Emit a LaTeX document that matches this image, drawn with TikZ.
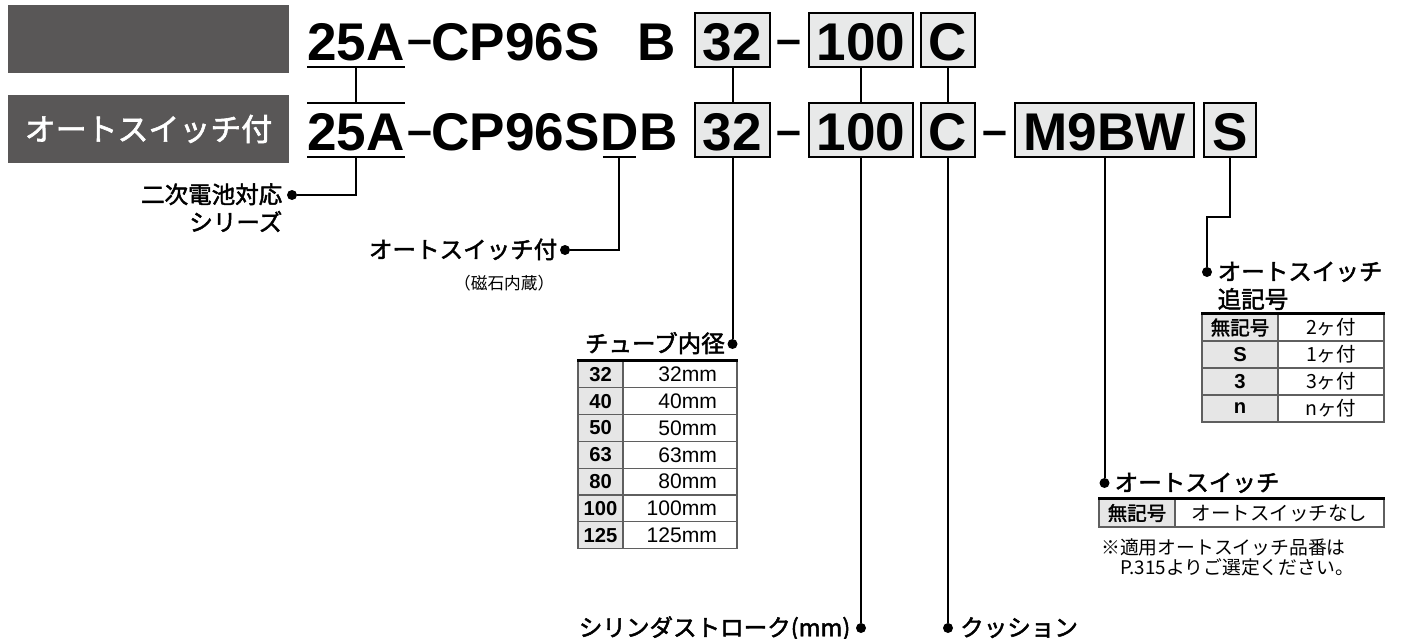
\documentclass[tikz,border=0pt]{standalone}
\usepackage{fontspec}
\setmainfont{Liberation Sans}
\newfontfamily\heros{Liberation Sans}
\newfontfamily\jp{Noto Sans CJK JP}
\newfontfamily\jpm[FakeBold=2]{Noto Sans CJK JP}
\usepackage{tikz}
\usetikzlibrary{positioning}

\definecolor{hdrgray}{RGB}{89,87,87}
\definecolor{boxgray}{RGB}{232,233,233}
\definecolor{cellgray}{RGB}{230,230,230}
\definecolor{gridgray}{RGB}{95,95,95}

\begin{document}
\begin{tikzpicture}[x=0.02cm, y=-0.02cm,
    hdr/.style={rectangle, fill=hdrgray, minimum width=5.62cm, minimum height=1.36cm,
                inner sep=0, text=white, font=\jpm\fontsize{17.6}{18}\selectfont},
    code/.style={font=\heros\bfseries\fontsize{30.2}{30}\selectfont, inner sep=0,
                 text height=0.94cm, text depth=0.14cm, anchor=base west},
    codebox/.style={code, anchor=base, draw=black, fill=boxgray, line width=0.04cm, inner xsep=0.16cm},
    hyph/.style={font=\heros\bfseries\fontsize{25.5}{26}\selectfont, inner sep=0, anchor=base},
    conn/.style={line width=0.04cm},
    uline/.style={line width=0.04cm},
    topline/.style={line width=0.05cm},
    dot/.style={circle, fill=black, inner sep=0, minimum size=0.2cm},
    lbl/.style={font=\jpm\fontsize{13.4}{14}\selectfont, inner sep=0,
                text height=0.4cm, text depth=0.07cm},
    note/.style={font=\jp\fontsize{10.7}{11.4}\selectfont, align=left, inner sep=0},
    keycell/.style={draw=gridgray, line width=0.025cm, fill=cellgray, inner sep=0,
                    font=\heros\bfseries\fontsize{11.5}{12}\selectfont},
    valcell/.style={draw=gridgray, line width=0.025cm, inner sep=0,
                    font=\heros\fontsize{12}{12}\selectfont},
    tubekey/.style={keycell, minimum width=0.9cm, minimum height=0.536cm},
    tubeval/.style={valcell, minimum height=0.536cm, text width=1.48cm, inner xsep=0.4cm, align=right},
    jpkey/.style={keycell, font=\jpm\fontsize{11.1}{12}\selectfont},
    jpval/.style={valcell, font=\jp\fontsize{11.1}{12}\selectfont}
]
    \useasboundingbox (0,0) rectangle (1401,639);

    % header boxes
    \node[hdr] (hdr1) at (148.5,39) {};
    \node[hdr] (hdr2) at (148.5,129) {オートスイッチ付};

    % standard model code
    \node[code] (ser1) at (307,60) {25A};
    \node[hyph] (h1a) at (420,54.5) {–};
    \node[code] (cp1) at (431,60) {CP96S\phantom{D}B};
    \node[codebox] (bore1) at (732.5,60) {32};
    \node[hyph] (h1b) at (789,54.5) {–};
    \node[codebox] (st1) at (861,60) {100};
    \node[codebox] (cu1) at (948,60) {C};

    % model code with auto switch
    \node[code] (ser2) at (307,150) {25A};
    \node[hyph] (h2a) at (420,145.5) {–};
    \node[code] (cp2) at (431,150) {CP96S};
    \node[code] (d2) at (cp2.base east) {D};
    \node[code] (b2) at (d2.base east) {B};
    \node[codebox] (bore2) at (732.5,150) {32};
    \node[hyph] (h2b) at (789,145.5) {–};
    \node[codebox] (st2) at (861,150) {100};
    \node[codebox] (cu2) at (948,150) {C};
    \node[hyph] (h2c) at (994.5,145.5) {–};
    \node[codebox] (sw2) at (1104.5,150) {M9BW};
    \node[codebox] (sf2) at (1230,150) {S};

    % underlines and links between the two rows
    \draw[uline] (ser1.south west) -- (ser1.south east);
    \draw[uline] (ser2.north west) -- (ser2.north east);
    \draw[uline] (ser2.south west) -- (ser2.south east);
    \draw[uline] ([xshift=0.06cm]d2.south west) -- ([xshift=-0.06cm]d2.south east);
    \draw[conn] (ser1.south) -- (ser2.north);
    \draw[conn] (bore1) -- (bore2);
    \draw[conn] (st1) -- (st2);
    \draw[conn] (cu1) -- (cu2);

    % series
    \node[dot] (dser) at (292,195) {};
    \node[lbl, left=0.08cm of dser] (lser) {二次電池対応};
    \node[lbl, anchor=north east] (lser2) at ([yshift=-0.07cm]lser.south east) {シリーズ};
    \draw[conn] (ser2.south) |- (dser);

    % auto switch mounted
    \node[dot] (dsw) at (565,250) {};
    \node[lbl, left=0.04cm of dsw] (lsw) {オートスイッチ付};
    \node[font=\jp\fontsize{9.5}{10}\selectfont, inner sep=0, anchor=north east] (lmag)
        at ([xshift=-0.06cm, yshift=-0.26cm]lsw.south east) {（磁石内蔵）};
    \draw[conn] (d2.south) |- (dsw);

    % bore size
    \node[dot] (dbore) at (732.5,344) {};
    \node[lbl, left=0.04cm of dbore] (lbore) {チューブ内径};
    \draw[conn] (bore2) -- (dbore);
    \node[tubekey] (tk1) at (600.5,374.4) {32};  \node[tubeval] (tv1) at (680,374.4) {32mm};
    \node[tubekey] (tk2) at (600.5,401.2) {40};  \node[tubeval] (tv2) at (680,401.2) {40mm};
    \node[tubekey] (tk3) at (600.5,428.0) {50};  \node[tubeval] (tv3) at (680,428.0) {50mm};
    \node[tubekey] (tk4) at (600.5,454.8) {63};  \node[tubeval] (tv4) at (680,454.8) {63mm};
    \node[tubekey] (tk5) at (600.5,481.6) {80};  \node[tubeval] (tv5) at (680,481.6) {80mm};
    \node[tubekey] (tk6) at (600.5,508.4) {100}; \node[tubeval] (tv6) at (680,508.4) {100mm};
    \node[tubekey] (tk7) at (600.5,535.2) {125}; \node[tubeval] (tv7) at (680,535.2) {125mm};
    \draw[topline] (tk1.north west) -- (tv1.north east);

    % stroke and cushion
    \node[dot] (dst) at (861,628) {};
    \node[lbl, left=0.1cm of dst] (lst) {シリンダストローク(mm)};
    \draw[conn] (st2) -- (dst);
    \node[dot] (dcu) at (948,628) {};
    \node[lbl, right=0.13cm of dcu] (lcu) {クッション};
    \draw[conn] (cu2) -- (dcu);

    % number of auto switches
    \node[dot] (dsuf) at (1207,272) {};
    \node[lbl, right=0.1cm of dsuf] (lsuf) {オートスイッチ};
    \node[lbl, anchor=north west] (lsuf2) at ([yshift=-0.07cm]lsuf.south west) {追記号};
    \draw[conn] (sf2.south) -- ++(0,59) -| (dsuf);
    \node[jpkey, minimum width=1.52cm, minimum height=0.54cm] (sk1) at (1240,327.5) {無記号};
    \node[jpval, minimum width=2.12cm, minimum height=0.54cm] (sv1) at (1331,327.5) {2ヶ付};
    \node[keycell, minimum width=1.52cm, minimum height=0.54cm] (sk2) at (1240,354.5) {S};
    \node[jpval, minimum width=2.12cm, minimum height=0.54cm] (sv2) at (1331,354.5) {1ヶ付};
    \node[keycell, minimum width=1.52cm, minimum height=0.54cm] (sk3) at (1240,381.5) {3};
    \node[jpval, minimum width=2.12cm, minimum height=0.54cm] (sv3) at (1331,381.5) {3ヶ付};
    \node[keycell, minimum width=1.52cm, minimum height=0.54cm] (sk4) at (1240,408.5) {n};
    \node[jpval, minimum width=2.12cm, minimum height=0.54cm] (sv4) at (1331,408.5) {nヶ付};
    \draw[topline] (sk1.north west) -- (sv1.north east);

    % auto switch
    \node[dot] (dsw2) at (1104.5,483) {};
    \node[lbl, right=0.09cm of dsw2] (lsw2) {オートスイッチ};
    \draw[conn] (sw2) -- (dsw2);
    \node[jpkey, minimum width=1.52cm, minimum height=0.56cm] (wk1) at (1137,513) {無記号};
    \node[jpval, minimum width=4.18cm, minimum height=0.56cm] (wv1) at (1279.5,513) {オートスイッチなし};
    \draw[line width=0.06cm] (wk1.north west) -- (wv1.north east);
    \node[note, anchor=north west] (nt) at (1101,538) {※適用オートスイッチ品番は\\　P.315よりご選定ください。};
\end{tikzpicture}
\end{document}
